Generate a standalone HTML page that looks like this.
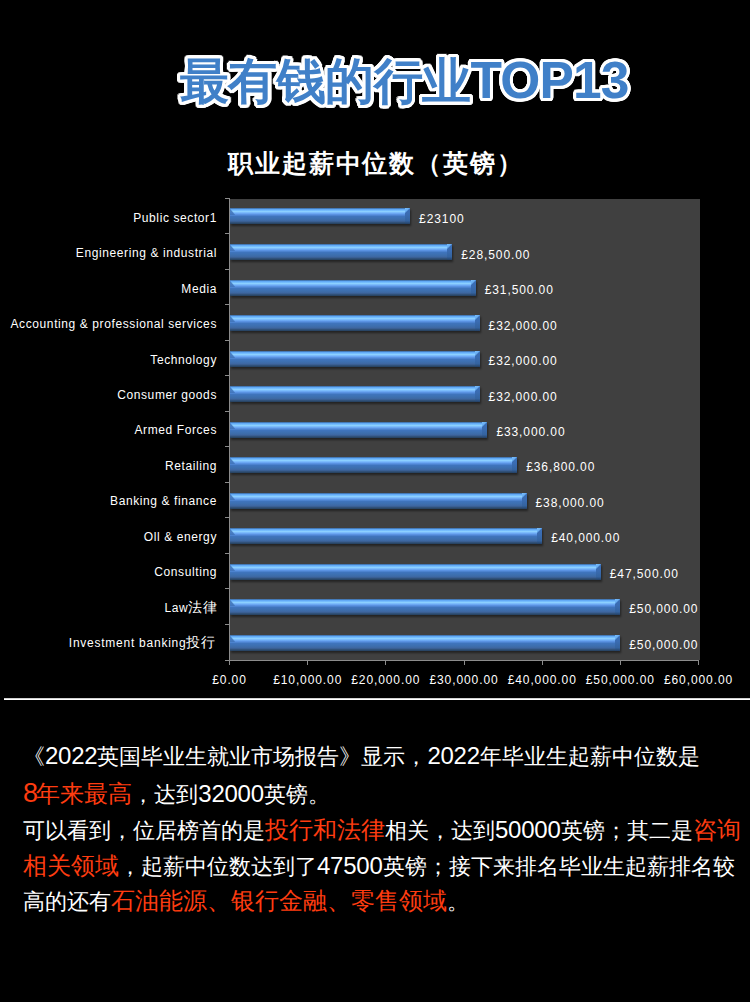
<!DOCTYPE html>
<html><head><meta charset="utf-8">
<style>
html,body{margin:0;padding:0;background:#000;width:750px;height:1002px;overflow:hidden;position:relative;font-family:"Liberation Sans",sans-serif;color:#fff}
.abs{position:absolute;white-space:nowrap}
.title{left:180px;top:44.7px;width:750px;text-align:left;font-size:49px;line-height:70px;font-weight:900;letter-spacing:-0.6px}
#t2{color:#4080c8;text-shadow:1.20px 0.00px 0 #fff,0.85px 0.85px 0 #fff,0.00px 1.20px 0 #fff,-0.85px 0.85px 0 #fff,-1.20px 0.00px 0 #fff,-0.85px -0.85px 0 #fff,-0.00px -1.20px 0 #fff,0.85px -0.85px 0 #fff,2.20px 0.00px 0 #fff,1.91px 1.10px 0 #fff,1.10px 1.91px 0 #fff,0.00px 2.20px 0 #fff,-1.10px 1.91px 0 #fff,-1.91px 1.10px 0 #fff,-2.20px 0.00px 0 #fff,-1.91px -1.10px 0 #fff,-1.10px -1.91px 0 #fff,-0.00px -2.20px 0 #fff,1.10px -1.91px 0 #fff,1.91px -1.10px 0 #fff,3.10px 0.00px 0 #fff,2.95px 0.96px 0 #fff,2.51px 1.82px 0 #fff,1.82px 2.51px 0 #fff,0.96px 2.95px 0 #fff,0.00px 3.10px 0 #fff,-0.96px 2.95px 0 #fff,-1.82px 2.51px 0 #fff,-2.51px 1.82px 0 #fff,-2.95px 0.96px 0 #fff,-3.10px 0.00px 0 #fff,-2.95px -0.96px 0 #fff,-2.51px -1.82px 0 #fff,-1.82px -2.51px 0 #fff,-0.96px -2.95px 0 #fff,-0.00px -3.10px 0 #fff,0.96px -2.95px 0 #fff,1.82px -2.51px 0 #fff,2.51px -1.82px 0 #fff,2.95px -0.96px 0 #fff}
#ctitle{left:208px;top:146px;font-family:"Liberation Serif",serif;font-size:25px;line-height:36px;font-weight:600;letter-spacing:1.9px}
#ctitle .h{color:transparent}
#plot{left:229px;top:199px;width:471px;height:461px;background:#404040}
.cat{right:533px;font-size:12px;line-height:16px;letter-spacing:0.6px}
.val{font-size:12px;line-height:14px;letter-spacing:0.9px}
.xl{top:673px;font-size:12px;line-height:14px;width:100px;text-align:center;letter-spacing:0.9px}
.bar{position:absolute;left:230px;height:16px;box-shadow:1px 2px 2px rgba(0,0,0,.45);background:linear-gradient(#2f5580 0,#5aa0f0 1px,#6ab4fc 2px,#8cd0ff 3.5px,#74b2fa 5px,#5a92e2 6.5px,#3f74bc 8.5px,#3d6fae 11px,#3e66a0 13px,#2c4a6c 15px,#26405e 16px)}

#rule{left:4px;top:698px;width:746px;height:2px;background:linear-gradient(#d0d0d0 50%,#fff 50%)}
#para{left:23px;top:738px;font-size:21.6px;line-height:38px}
.ln{position:absolute;left:0;white-space:nowrap}
.r{color:#fe3c10;font-size:24px}
.tp{font-size:51.5px;letter-spacing:-0.8px}
.d{font-size:24px;letter-spacing:-0.25px;line-height:0}
.r .d{font-size:27px;letter-spacing:-1.7px}
.cj{font-size:13.5px;letter-spacing:0.3px}
.bar i.lb{position:absolute;left:0;top:1px;width:5px;height:6px;background:linear-gradient(to top right,rgba(62,114,184,.85) 45%,rgba(62,114,184,0) 60%)}


.bar i.end{position:absolute;right:0;top:0;width:5px;height:16px;background:linear-gradient(to bottom right,rgba(125,195,255,.95) 0,rgba(110,180,248,.9) 42%,rgba(60,112,180,0) 58%) 0 0/5px 5px no-repeat,linear-gradient(#3a6fb8,#3a6cb2 40%,#34639f 80%,#243f62)}

</style></head><body>
<div class="abs title" id="t2">最有钱的行业<span class="tp">TOP13</span></div>
<div class="abs" id="ctitle"><span class="h">A</span>职业起薪中位数（英镑）</div>
<div class="abs" id="plot"></div>
<div class="bar" style="top:208px;width:180.1px"><i class="end"></i><i class="hl"></i><i class="lb"></i></div>
<div class="abs cat" style="top:209.8px">Public sector1</div>
<div class="abs val" style="left:419.1px;top:212.3px">£23100</div>
<div class="bar" style="top:244px;width:222.3px"><i class="end"></i><i class="hl"></i><i class="lb"></i></div>
<div class="abs cat" style="top:245.2px">Engineering & industrial</div>
<div class="abs val" style="left:461.3px;top:247.7px">£28,500.00</div>
<div class="bar" style="top:280px;width:245.7px"><i class="end"></i><i class="hl"></i><i class="lb"></i></div>
<div class="abs cat" style="top:280.6px">Media</div>
<div class="abs val" style="left:484.7px;top:283.1px">£31,500.00</div>
<div class="bar" style="top:315px;width:249.6px"><i class="end"></i><i class="hl"></i><i class="lb"></i></div>
<div class="abs cat" style="top:316.1px">Accounting & professional services</div>
<div class="abs val" style="left:488.6px;top:318.6px">£32,000.00</div>
<div class="bar" style="top:351px;width:249.6px"><i class="end"></i><i class="hl"></i><i class="lb"></i></div>
<div class="abs cat" style="top:351.5px">Technology</div>
<div class="abs val" style="left:488.6px;top:354.0px">£32,000.00</div>
<div class="bar" style="top:386px;width:249.6px"><i class="end"></i><i class="hl"></i><i class="lb"></i></div>
<div class="abs cat" style="top:387.0px">Consumer goods</div>
<div class="abs val" style="left:488.6px;top:389.5px">£32,000.00</div>
<div class="bar" style="top:422px;width:257.4px"><i class="end"></i><i class="hl"></i><i class="lb"></i></div>
<div class="abs cat" style="top:422.4px">Armed Forces</div>
<div class="abs val" style="left:496.4px;top:424.9px">£33,000.00</div>
<div class="bar" style="top:457px;width:287.2px"><i class="end"></i><i class="hl"></i><i class="lb"></i></div>
<div class="abs cat" style="top:457.8px">Retailing</div>
<div class="abs val" style="left:526.2px;top:460.3px">£36,800.00</div>
<div class="bar" style="top:493px;width:296.5px"><i class="end"></i><i class="hl"></i><i class="lb"></i></div>
<div class="abs cat" style="top:493.3px">Banking & finance</div>
<div class="abs val" style="left:535.5px;top:495.8px">£38,000.00</div>
<div class="bar" style="top:528px;width:312.2px"><i class="end"></i><i class="hl"></i><i class="lb"></i></div>
<div class="abs cat" style="top:528.7px">Oll & energy</div>
<div class="abs val" style="left:551.2px;top:531.2px">£40,000.00</div>
<div class="bar" style="top:564px;width:370.8px"><i class="end"></i><i class="hl"></i><i class="lb"></i></div>
<div class="abs cat" style="top:564.2px">Consulting</div>
<div class="abs val" style="left:609.8px;top:566.7px">£47,500.00</div>
<div class="bar" style="top:599px;width:390.3px"><i class="end"></i><i class="hl"></i><i class="lb"></i></div>
<div class="abs cat" style="top:599.6px">Law<span class="cj">法律</span></div>
<div class="abs val" style="left:629.3px;top:602.1px">£50,000.00</div>
<div class="bar" style="top:635px;width:390.3px"><i class="end"></i><i class="hl"></i><i class="lb"></i></div>
<div class="abs cat" style="top:635.0px"><span style="letter-spacing:0.75px">Investment banking</span><span class="cj" style="margin-right:2px">投行</span></div>
<div class="abs val" style="left:629.3px;top:637.5px">£50,000.00</div>
<svg class="abs" style="left:0;top:0" width="750" height="700"><g stroke="#8c8c8c" stroke-width="1" fill="none" shape-rendering="crispEdges"><path d="M229.5 198V660.5H699"/><path d="M225 198.5H229.5"/><path d="M225 233.5H229.5"/><path d="M225 269.5H229.5"/><path d="M225 304.5H229.5"/><path d="M225 340.5H229.5"/><path d="M225 375.5H229.5"/><path d="M225 411.5H229.5"/><path d="M225 446.5H229.5"/><path d="M225 482.5H229.5"/><path d="M225 517.5H229.5"/><path d="M225 553.5H229.5"/><path d="M225 588.5H229.5"/><path d="M225 624.5H229.5"/><path d="M225 660.5H229.5"/><path d="M229.5 660V665"/><path d="M307.5 660V665"/><path d="M385.5 660V665"/><path d="M464.5 660V665"/><path d="M542.5 660V665"/><path d="M620.5 660V665"/><path d="M698.5 660V665"/></g></svg>
<div class="abs xl" style="left:179.5px">£0.00</div>
<div class="abs xl" style="left:257.7px">£10,000.00</div>
<div class="abs xl" style="left:335.8px">£20,000.00</div>
<div class="abs xl" style="left:414.0px">£30,000.00</div>
<div class="abs xl" style="left:492.2px">£40,000.00</div>
<div class="abs xl" style="left:570.3px">£50,000.00</div>
<div class="abs xl" style="left:648.5px">£60,000.00</div>
<div class="abs" id="rule"></div>
<div class="abs" id="para"><div class="ln" style="top:0">《<span class="d">2022</span>英国毕业生就业市场报告》显示，<span class="d">2022</span>年毕业生起薪中位数是</div><div class="ln" style="top:37px"><span class="r"><span class="d">8</span>年来最高</span>，达到<span class="d">32000</span>英镑。</div><div class="ln" style="top:72.5px">可以看到，位居榜首的是<span class="r">投行和法律</span>相关，达到<span class="d">50000</span>英镑；其二是<span class="r">咨询</span></div><div class="ln" style="top:108.5px"><span class="r">相关领域</span>，起薪中位数达到了<span class="d">47500</span>英镑；接下来排名毕业生起薪排名较</div><div class="ln" style="top:144px">高的还有<span class="r">石油能源、银行金融、零售领域</span>。</div></div>
</body></html>
